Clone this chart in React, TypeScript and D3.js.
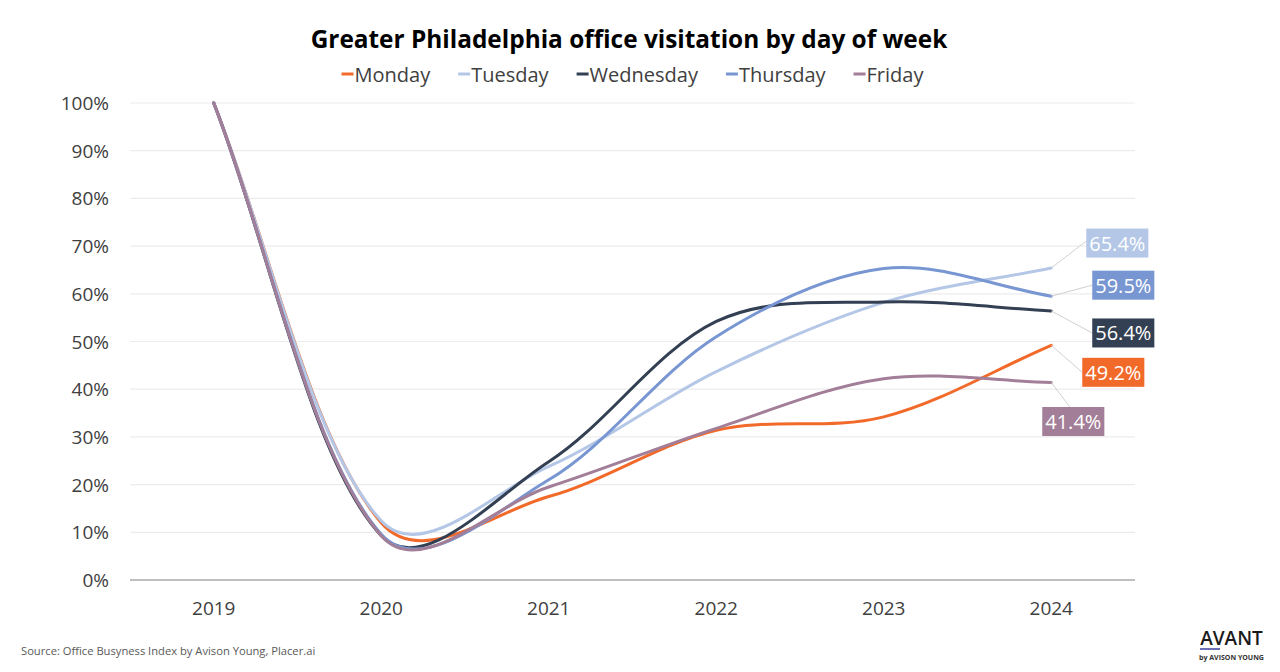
import React from 'react';
import * as d3 from 'd3';

// ---- data ----
const years = ['2019', '2020', '2021', '2022', '2023', '2024'];
const days = ['Monday', 'Tuesday', 'Wednesday', 'Thursday', 'Friday'];
const monday = [100, 12.0, 17.5, 31.4, 34.2, 49.2];
const tuesday = [100, 12.4, 23.8, 43.7, 58.2, 65.4];
const wednesday = [100, 9.3, 24.8, 54.2, 58.3, 56.4];
const thursday = [100, 9.6, 21.0, 51.0, 65.3, 59.5];
const friday = [100, 9.3, 19.5, 31.8, 42.2, 41.4];
const yTicks = [0, 10, 20, 30, 40, 50, 60, 70, 80, 90, 100];
const colors = ['#f26a2a', '#b4c7e7', '#333f52', '#7896d2', '#a27e98'];

const title = 'Greater Philadelphia office visitation by day of week';
const source = 'Source: Office Busyness Index by Avison Young, Placer.ai';

// ---- layout (end label placement relative to last point) ----
// [boxLeftDx, boxCenterDy, leaderEndDx, leaderEndDy]
const labelPlacement: Record<string, [number, number, number, number]> = {
  Monday: [31, 27, 31, 27],
  Tuesday: [35, -25, 35, -27],
  Wednesday: [41, 22, 41, 22],
  Thursday: [41, -11, 41, -11],
  Friday: [-9, 39, 19, 25],
};

const W = 1280, H = 672;
const FONT = '"Open Sans", "Noto Sans", sans-serif';

function excelCurve(context: any) {
  let pts: [number, number][] = [];
  const dist = (a: number[], b: number[]) => Math.pow(Math.hypot(b[0] - a[0], b[1] - a[1]), 0.6);
  return {
    areaStart() {},
    areaEnd() {},
    lineStart() { pts = []; },
    point(x: number, y: number) { pts.push([+x, +y]); },
    lineEnd() {
      const n = pts.length;
      if (!n) return;
      context.moveTo(pts[0][0], pts[0][1]);
      for (let i = 0; i < n - 1; i++) {
        const p0 = pts[Math.max(0, i - 1)], p1 = pts[i], p2 = pts[i + 1], p3 = pts[Math.min(n - 1, i + 2)];
        const d01 = dist(p0, p1), d12 = dist(p1, p2), d23 = dist(p2, p3);
        const f1 = d01 + d12 > 0 ? d12 / (d01 + d12) / 3 : 0;
        const f2 = d12 + d23 > 0 ? d12 / (d12 + d23) / 3 : 0;
        const c1x = p1[0] + (p2[0] - p0[0]) * f1, c1y = p1[1] + (p2[1] - p0[1]) * f1;
        const c2x = p2[0] - (p3[0] - p1[0]) * f2, c2y = p2[1] - (p3[1] - p1[1]) * f2;
        context.bezierCurveTo(c1x, c1y, c2x, c2y, p2[0], p2[1]);
      }
    },
  };
}

function measure(text: string, font: string) {
  const c = document.createElement('canvas').getContext('2d')!;
  c.font = font;
  return c.measureText(text).width;
}

export default function App() {
  const series = [monday, tuesday, wednesday, thursday, friday];
  const left = 130, right = 1135, top = 103, bottom = 580;
  const x = d3.scalePoint<string>().domain(years).range([left, right]).padding(0.5);
  const y = d3.scaleLinear().domain([0, 100]).range([bottom, top]);
  const line = d3.line<number>()
    .x((_, i) => x(years[i])!)
    .y((d) => y(d))
    .curve(excelCurve as any);

  // legend
  const legSize = 20;
  const legFont = `${legSize}px ${FONT}`;
  const markerW = 12, markerGap = 1, itemGap = 28;
  const widths = days.map((d) => markerW + markerGap + measure(d, legFont));
  const total = d3.sum(widths) + itemGap * (days.length - 1);
  let lx = 632.5 - total / 2;
  const legendItems = days.map((d, i) => {
    const item = { d, i, x: lx };
    lx += widths[i] + itemGap;
    return item;
  });

  const labelFont = `20px ${FONT}`;

  return (
    <svg width={W} height={H} style={{ position: 'absolute', left: 0, top: 0, background: '#fff' }} fontFamily={FONT}>
      <rect width={W} height={H} fill="#fff" />
      <text x={629} y={38} textAnchor="middle" dominantBaseline="central" fontSize={24.4} fontWeight={700} fill="#000">{title}</text>

      {legendItems.map(({ d, i, x: ix }) => (
        <g key={d}>
          <line x1={ix} x2={ix + markerW} y1={74} y2={74} stroke={colors[i]} strokeWidth={3} />
          <text x={ix + markerW + markerGap} y={74} dominantBaseline="central" fontSize={legSize} fill="#404040">{d}</text>
        </g>
      ))}

      {yTicks.map((t) => (
        <g key={t}>
          {t > 0 && <line x1={left} x2={right} y1={y(t)} y2={y(t)} stroke="#ececec" strokeWidth={1.2} />}
          <text x={109} y={y(t)} textAnchor="end" dominantBaseline="central" fontSize={19} fill="#404040">{`${t}%`}</text>
        </g>
      ))}
      <line x1={left} x2={right} y1={y(0)} y2={y(0)} stroke="#bfbfbf" strokeWidth={2} />

      {years.map((yr) => (
        <text key={yr} x={x(yr)} y={608} textAnchor="middle" dominantBaseline="central" fontSize={19} fill="#404040">{yr}</text>
      ))}

      {series.map((s, i) => (
        <path key={days[i]} d={line(s) || ''} fill="none" stroke={colors[i]} strokeWidth={3} strokeLinejoin="round" strokeLinecap="round" />
      ))}

      {series.map((s, i) => {
        const last = s[s.length - 1];
        const px = x(years[years.length - 1])!, py = y(last);
        const [bdx, bdy, ldx, ldy] = labelPlacement[days[i]];
        const txt = `${last.toFixed(1)}%`;
        const tw = measure(txt, labelFont);
        const bw = tw + 6, bh = 29;
        return (
          <g key={'lab' + i}>
            <line x1={px} y1={py} x2={px + ldx} y2={py + ldy} stroke="#d0d0d0" strokeWidth={1} />
            <rect x={px + bdx} y={py + bdy - bh / 2} width={bw} height={bh} fill={colors[i]} />
            <text x={px + bdx + bw / 2} y={py + bdy} textAnchor="middle" dominantBaseline="central" fontSize={20} fill="#fff">{txt}</text>
          </g>
        );
      })}

      <text x={21} y={650} dominantBaseline="central" fontSize={11.2} fill="#595959">{source}</text>

      <g>
        <text x={1231.5} y={638} textAnchor="middle" dominantBaseline="central" fontSize={19} fontWeight={600} fill="#1a1a1a" fontFamily={FONT}>AVANT</text>
        <rect x={1200} y={648} width={20} height={2} fill="#6b6fb5" />
        <text x={1231.5} y={657} textAnchor="middle" dominantBaseline="central" fontSize={7} fontWeight={700} fill="#333" fontFamily={FONT}>by AVISON YOUNG</text>
      </g>
    </svg>
  );
}
